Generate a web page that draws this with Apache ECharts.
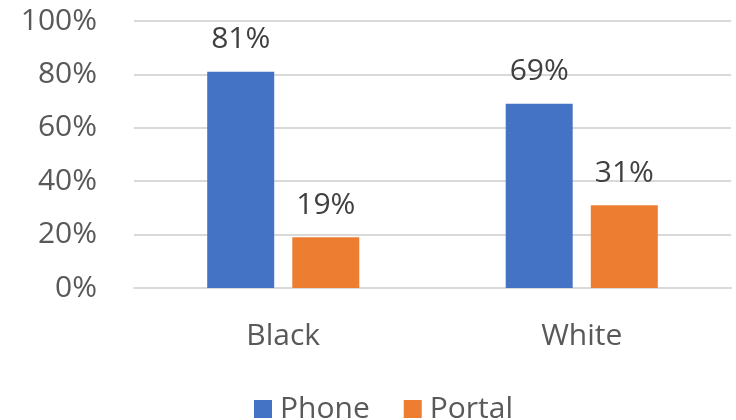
<!DOCTYPE html>
<html>
<head>
<meta charset="utf-8">
<script src="https://cdn.jsdelivr.net/npm/echarts@6/dist/echarts.min.js"></script>
<style>
  html, body { margin: 0; padding: 0; background: #fff; }
  #chart { width: 736px; height: 420px; }
</style>
</head>
<body>
<div id="chart"></div>
<script>
// Share of each group using phone vs portal
const categories = ['Black', 'White'];
const phoneValues = [81, 69];
const portalValues = [19, 31];
const seriesNames = ['Phone', 'Portal'];

const FONT = '"Open Sans", "Noto Sans", sans-serif';
const chart = echarts.init(document.getElementById('chart'), null, { renderer: 'canvas' });

const labelStyle = {
  show: true,
  position: 'top',
  distance: 17,
  formatter: p => p.value + '%',
  color: '#404040',
  fontFamily: FONT,
  fontSize: 30
};

chart.setOption({
  animation: false,
  grid: { left: 134, right: 5, top: 21, bottom: 132, containLabel: false },
  legend: {
    data: seriesNames,
    left: 249,
    top: 389,
    itemWidth: 18,
    itemHeight: 18,
    itemGap: 34,
    icon: 'rect',
    textStyle: { color: '#595959', fontFamily: FONT, fontSize: 30, padding: [0, 0, 0, 3] }
  },
  xAxis: {
    type: 'category',
    data: categories,
    axisLine: { show: true, lineStyle: { color: '#d9d9d9', width: 2 } },
    axisTick: { show: false },
    axisLabel: { color: '#595959', fontFamily: FONT, fontSize: 30, margin: 33 }
  },
  yAxis: {
    type: 'value',
    min: 0,
    max: 100,
    interval: 20,
    axisLine: { show: false },
    axisTick: { show: false },
    splitLine: { lineStyle: { color: '#d9d9d9', width: 2 } },
    axisLabel: { formatter: '{value}%', color: '#595959', fontFamily: FONT, fontSize: 30, margin: 37 }
  },
  series: [
    {
      name: seriesNames[0],
      type: 'bar',
      data: phoneValues,
      itemStyle: { color: '#4472c4' },
      barWidth: 67,
      barGap: '27%',
      label: labelStyle
    },
    {
      name: seriesNames[1],
      type: 'bar',
      data: portalValues,
      itemStyle: { color: '#ed7d31' },
      barWidth: 67,
      label: labelStyle
    }
  ]
});
</script>
</body>
</html>
